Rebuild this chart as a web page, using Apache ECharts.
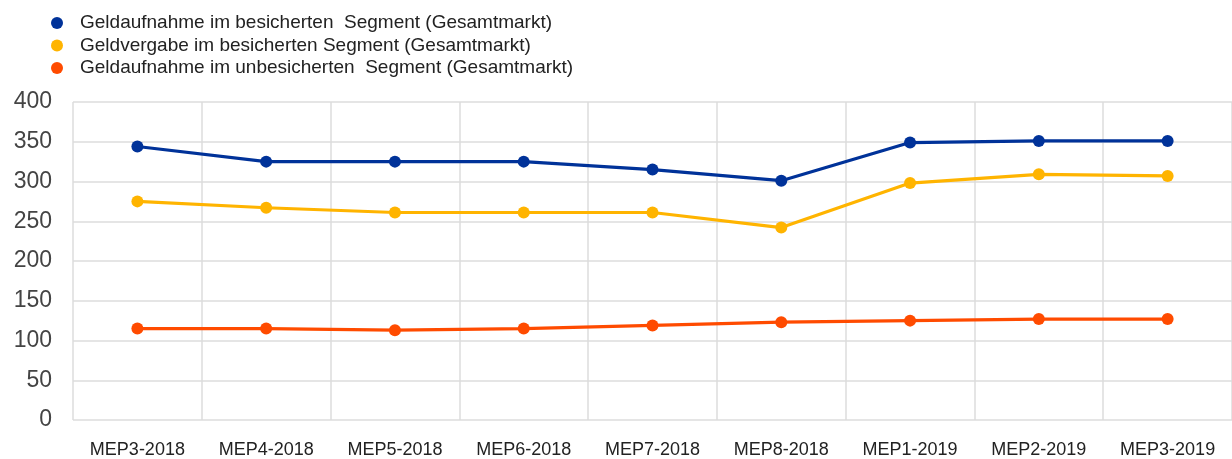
<!DOCTYPE html>
<html>
<head>
<meta charset="utf-8">
<script src="https://cdn.jsdelivr.net/npm/echarts@6/dist/echarts.min.js"></script>
<style>html,body{margin:0;padding:0;background:#fff}#c{width:1232px;height:459px}</style>
</head>
<body>
<div id="c"></div>
<script>
const categories = ["MEP3-2018","MEP4-2018","MEP5-2018","MEP6-2018","MEP7-2018","MEP8-2018","MEP1-2019","MEP2-2019","MEP3-2019"];
const seriesNames = ["Geldaufnahme im besicherten  Segment (Gesamtmarkt)","Geldvergabe im besicherten Segment (Gesamtmarkt)","Geldaufnahme im unbesicherten  Segment (Gesamtmarkt)"];
const securedBorrowing = [344, 325, 325, 325, 315, 301, 349, 351, 351];
const securedLending = [275, 267, 261, 261, 261, 242, 298, 309, 307];
const unsecuredBorrowing = [115, 115, 113, 115, 119, 123, 125, 127, 127];
const colors = ["#003299", "#FFB400", "#FF4B00"];

const chart = echarts.init(document.getElementById('c'));
const mk = (name, data, color) => ({
  name, type: 'line', data,
  symbol: 'circle', symbolSize: 12,
  lineStyle: { width: 3.2, color },
  itemStyle: { color },
  emphasis: { disabled: true }
});
chart.setOption({
  animation: false,
  legend: {
    orient: 'vertical', left: 46, top: 7,
    icon: 'circle', itemWidth: 12, itemHeight: 12, itemGap: 0.5,
    textStyle: { fontFamily: 'Liberation Sans, Arial', fontSize: 19, color: '#222', lineHeight: 22, padding: [0,0,0,12] },
    data: seriesNames
  },
  grid: { left: 73, right: 0, top: 102, bottom: 37, containLabel: false },
  xAxis: {
    type: 'category', data: categories, boundaryGap: true,
    axisLine: { show: false }, axisTick: { show: false },
    splitLine: { show: true, lineStyle: { color: '#dcdcdc', width: 1.5 } },
    axisLabel: { fontFamily: 'Liberation Sans, Arial', fontSize: 18, color: '#222', margin: 21 }
  },
  yAxis: {
    type: 'value', min: 0, max: 400, interval: 50,
    axisLine: { show: false }, axisTick: { show: false },
    splitLine: { lineStyle: { color: '#dcdcdc', width: 1.5 } },
    axisLabel: { fontFamily: 'Liberation Sans, Arial', fontSize: 23, color: '#444', margin: 21 }
  },
  series: [
    mk(seriesNames[0], securedBorrowing, colors[0]),
    mk(seriesNames[1], securedLending, colors[1]),
    mk(seriesNames[2], unsecuredBorrowing, colors[2])
  ]
});
</script>
</body>
</html>
